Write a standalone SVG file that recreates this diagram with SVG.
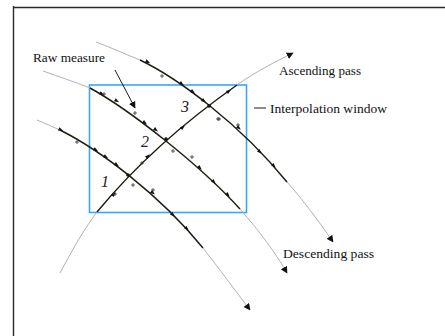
<svg xmlns="http://www.w3.org/2000/svg" xmlns:xlink="http://www.w3.org/1999/xlink" width="445" height="336" viewBox="0 0 445 336">
<style>
.frame{fill:none;stroke:#2a2a2a;stroke-width:1.4}
.win{fill:none;stroke:#3aa8f0;stroke-width:1.6}
.thin{fill:none;stroke:#a4a8ba;stroke-width:0.9}
.pass{fill:none;stroke:#1e1e10;stroke-width:1.5}
.lbl{font-family:"Liberation Serif",serif;font-size:11.5px;fill:#111}
.num{font-family:"Liberation Serif",serif;font-style:italic;font-size:16px;fill:#222}
.tk{stroke:#333;stroke-width:0.8;fill:none}
.ar{fill:#111}
</style>
<defs>
<marker id="head" viewBox="0 0 10 10" refX="9" refY="5" markerWidth="7" markerHeight="7" orient="auto" markerUnits="userSpaceOnUse">
<path d="M0,0 L10,5 L0,10 z" fill="#111"/>
</marker>
<path id="p" class="tk" d="M-2,0 H2 M0,-2 V2"/>
<path id="a" class="ar" d="M-2.5,-1.8 L2.5,0 L-2.5,1.8 z"/>
</defs>
<g id="frame"><path class="frame" d="M13.5,6 V336 M13,7.5 H445"/></g>
<g id="window"><rect class="win" x="89.5" y="85" width="157" height="127.5"/></g>
<g id="connectors">
<path class="thin" d="M96,42 C112,48 125,54 140,60"/>
<path class="pass" d="M140,60 C165,72 185,86 210,106 C240,130 265,155 287,182"/>
<path class="thin" d="M287,182 C303,200 318,220 333,242" marker-end="url(#head)"/>
<path class="thin" d="M43,71 C60,77 75,82 90,88"/>
<path class="pass" d="M90,88 C130,110 200,165 240,209"/>
<path class="thin" d="M240,209 C260,232 275,252 287,273" marker-end="url(#head)"/>
<path class="thin" d="M37,120 C45,123 52,127 60,130"/>
<path class="pass" d="M60,130 C100,150 160,195 203,248"/>
<path class="thin" d="M203,248 C220,270 235,290 250,310" marker-end="url(#head)"/>
<path class="thin" d="M60,273 C75,245 85,228 97,212"/>
<path class="pass" d="M97,212 C140,160 190,118 237,85"/>
<path class="thin" d="M237,85 C255,72 275,62 293,53" marker-end="url(#head)"/>
<path class="pass" style="stroke-width:1" d="M115,70 L135,108" marker-end="url(#head)"/>
<path class="pass" style="stroke-width:1" d="M254,108 H266"/>
<use xlink:href="#a" transform="translate(148,62) rotate(28)"/>
<use xlink:href="#a" transform="translate(182,84) rotate(34)"/>
<use xlink:href="#a" transform="translate(193,92) rotate(36)"/>
<use xlink:href="#a" transform="translate(204,101) rotate(38)"/>
<use xlink:href="#a" transform="translate(239,128) rotate(42)"/>
<use xlink:href="#a" transform="translate(260,152) rotate(46)"/>
<use xlink:href="#a" transform="translate(274,166) rotate(48)"/>
<use xlink:href="#p" x="162" y="76"/>
<use xlink:href="#p" x="218" y="119"/>
<use xlink:href="#p" x="238" y="125"/>
<use xlink:href="#a" transform="translate(102,94) rotate(30)"/>
<use xlink:href="#a" transform="translate(117,101) rotate(32)"/>
<use xlink:href="#a" transform="translate(145,123) rotate(36)"/>
<use xlink:href="#a" transform="translate(156,130) rotate(38)"/>
<use xlink:href="#a" transform="translate(200,168) rotate(44)"/>
<use xlink:href="#a" transform="translate(214,182) rotate(46)"/>
<use xlink:href="#a" transform="translate(228,195) rotate(47)"/>
<use xlink:href="#p" x="104" y="94"/>
<use xlink:href="#p" x="135" y="113"/>
<use xlink:href="#p" x="173" y="151"/>
<use xlink:href="#p" x="192" y="157"/>
<use xlink:href="#a" transform="translate(61,130) rotate(26)"/>
<use xlink:href="#a" transform="translate(96,150) rotate(30)"/>
<use xlink:href="#a" transform="translate(106,157) rotate(32)"/>
<use xlink:href="#a" transform="translate(117,165) rotate(34)"/>
<use xlink:href="#a" transform="translate(153,193) rotate(40)"/>
<use xlink:href="#a" transform="translate(173,215) rotate(46)"/>
<use xlink:href="#a" transform="translate(187,229) rotate(48)"/>
<use xlink:href="#p" x="77" y="142"/>
<use xlink:href="#p" x="133" y="185"/>
<use xlink:href="#p" x="153" y="190"/>
<use xlink:href="#a" transform="translate(114,194) rotate(-48)"/>
<use xlink:href="#a" transform="translate(148,156) rotate(-44)"/>
<use xlink:href="#a" transform="translate(183,127) rotate(-40)"/>
<use xlink:href="#a" transform="translate(229,91) rotate(-36)"/>
<use xlink:href="#p" x="115" y="194"/>
<use xlink:href="#p" x="219" y="119"/>
<use xlink:href="#p" x="142" y="163"/>
<circle cx="128" cy="175" r="1.8" fill="#111"/>
<circle cx="166" cy="139" r="1.8" fill="#111"/>
<circle cx="209" cy="106" r="1.8" fill="#111"/>
</g>
<g id="labels">
<text class="lbl" x="33" y="62" textLength="72" lengthAdjust="spacingAndGlyphs">Raw measure</text>
<text class="lbl" x="279" y="75" textLength="82" lengthAdjust="spacingAndGlyphs">Ascending pass</text>
<text class="lbl" x="270" y="113" textLength="117" lengthAdjust="spacingAndGlyphs">Interpolation window</text>
<text class="lbl" x="283" y="258" textLength="91" lengthAdjust="spacingAndGlyphs">Descending pass</text>
<text class="num" x="181" y="112">3</text>
<text class="num" x="141" y="147">2</text>
<text class="num" x="101" y="187">1</text>
</g>
</svg>
